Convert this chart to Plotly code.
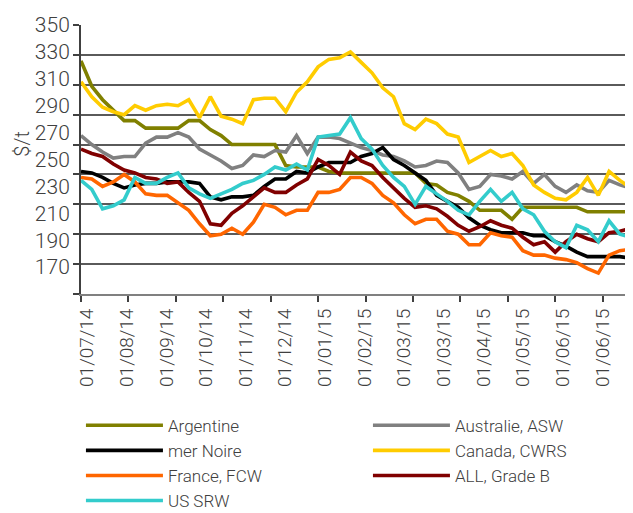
import plotly.graph_objects as go

# ---- data (index = trading-day position along the category axis) ----
x_index = list(range(0, 256, 5))

tick_labels = ["01/07/14", "01/08/14", "01/09/14", "01/10/14", "01/11/14", "01/12/14",
               "01/01/15", "01/02/15", "01/03/15", "01/03/15", "01/04/15", "01/05/15",
               "01/06/15", "01/06/15"]

y_tick_labels = ["350", "330", "310", "290", "270", "250", "230", "210", "190", "170"]

argentine = [326, 309, 300, 293, 286, 286, 281, 281, 281, 281,
             286, 286, 280, 276, 270, 270, 270, 270, 270, 256,
             255, 255, 255, 252, 251, 251, 251, 251, 251, 251,
             251, 251, 244, 243, 238, 236, 232, 226, 226, 226,
             220, 228, 228, 228, 228, 228, 228, 225, 225, 225,
             225, 225]

australie = [276, 270, 265, 261, 262, 262, 271, 275, 275, 278,
             275, 267, 263, 259, 254, 256, 263, 262, 266, 265,
             276, 264, 275, 275, 274, 271, 268, 266, 263, 262,
             259, 255, 256, 259, 258, 251, 240, 242, 250, 249,
             247, 252, 244, 250, 242, 238, 243, 239, 238, 246,
             243, 241]

mer_noire = [252, 251, 248, 244, 241, 243, 244, 244, 245, 245,
             245, 244, 235, 233, 235, 235, 236, 242, 247, 247,
             252, 251, 255, 258, 258, 258, 262, 264, 268, 260,
             256, 251, 246, 236, 232, 228, 221, 216, 213, 211,
             211, 211, 209, 209, 205, 202, 198, 195, 195, 195,
             195, 194]

canada = [312, 302, 295, 292, 290, 296, 293, 296, 297, 296,
          300, 288, 302, 289, 287, 284, 300, 301, 301, 292,
          305, 312, 322, 327, 328, 332, 325, 318, 308, 302,
          284, 280, 287, 284, 277, 275, 258, 262, 266, 262,
          264, 256, 243, 238, 234, 233, 238, 248, 236, 252,
          246, 241]

france = [248, 247, 242, 245, 250, 245, 237, 236, 236, 231,
          226, 217, 209, 210, 214, 210, 218, 230, 228, 223,
          226, 226, 238, 238, 240, 248, 248, 244, 236, 231,
          223, 217, 220, 220, 212, 210, 203, 203, 211, 209,
          208, 199, 196, 196, 194, 193, 191, 187, 184, 196,
          199, 200]

all_grade_b = [267, 264, 262, 257, 253, 251, 248, 247, 244, 245,
               238, 232, 217, 216, 224, 229, 235, 241, 238, 238,
               243, 247, 260, 256, 250, 265, 259, 256, 248, 241,
               234, 228, 229, 227, 222, 216, 212, 215, 219, 216,
               214, 208, 203, 205, 198, 205, 210, 207, 205, 211,
               212, 214]

us_srw = [246, 240, 227, 229, 233, 248, 244, 244, 248, 251,
          241, 237, 234, 237, 240, 244, 246, 250, 255, 253,
          257, 253, 275, 276, 277, 288, 274, 267, 256, 248,
          242, 230, 242, 237, 232, 226, 223, 232, 240, 232,
          238, 227, 223, 212, 205, 201, 216, 213, 205, 219,
          210, 208]

series = [
    ("Argentine", argentine, "#808000"),
    ("Australie, ASW", australie, "#808080"),
    ("mer Noire", mer_noire, "#000000"),
    ("Canada, CWRS", canada, "#FFCC00"),
    ("France, FCW", france, "#FF6600"),
    ("ALL, Grade B", all_grade_b, "#800000"),
    ("US SRW", us_srw, "#33CCCC"),
]

fig = go.Figure()
for name, vals, color in series:
    fig.add_trace(go.Scatter(x=x_index, y=vals, mode="lines", name=name,
                             line=dict(color=color, width=3.6)))

# empty helper trace so the label-only overlay axes get drawn
fig.add_trace(go.Scatter(x=[], y=[], xaxis="x2", yaxis="y2", showlegend=False,
                         hoverinfo="skip"))

X_MAX = 256.1
grid_step_idx = 22
label_first, label_step = 2.8, 18.4
text_col = "#404040"

# the page has an 8px body margin, so the figure is 8px smaller than the window
fig.update_layout(
    width=625, height=505,
    margin=dict(l=73, r=0, t=17, b=219, autoexpand=False),
    plot_bgcolor="white", paper_bgcolor="white",
    font=dict(family="Roboto", size=19, color=text_col, weight=300),
    showlegend=True,
    legend=dict(orientation="h", x=-0.0001, y=-0.4226, xanchor="left", yanchor="top",
                entrywidth=195, entrywidthmode="pixels", itemwidth=77,
                font=dict(size=17, color=text_col), traceorder="normal"),
    xaxis=dict(range=[0, X_MAX], tickmode="array",
               tickvals=[i * grid_step_idx for i in range(12)],
               showticklabels=False, ticks="outside", ticklen=6, tickwidth=1.5,
               tickcolor=text_col, showline=True, linecolor="#808080", linewidth=2,
               showgrid=False, zeroline=False),
    xaxis2=dict(range=[0, X_MAX], overlaying="x", anchor="y", side="bottom",
                tickmode="array",
                tickvals=[label_first + k * label_step for k in range(len(tick_labels))],
                ticktext=tick_labels, tickangle=-90, ticks="outside", ticklen=6,
                tickcolor="rgba(0,0,0,0)", showline=False, showgrid=False, zeroline=False,
                tickfont=dict(size=19, color=text_col)),
    yaxis=dict(range=[170, 350], tickmode="array", tickvals=list(range(170, 351, 20)),
               showticklabels=False, ticks="outside", ticklen=6, tickwidth=1.5,
               tickcolor=text_col, showgrid=True, gridcolor="#5a5a5a", gridwidth=1.5,
               showline=True, linecolor=text_col, linewidth=2, zeroline=False),
    yaxis2=dict(range=[170, 350], overlaying="y", anchor="x", side="left",
                tickmode="array",
                tickvals=[350 - k * 18 for k in range(len(y_tick_labels))],
                ticktext=y_tick_labels, ticks="outside", ticklen=6,
                tickcolor="rgba(0,0,0,0)", showline=False, showgrid=False, zeroline=False,
                tickfont=dict(size=21, color=text_col)),
    annotations=[dict(text="$/t", textangle=-90, xref="paper", yref="paper",
                      x=-0.106, y=0.557, xanchor="center", yanchor="middle",
                      showarrow=False, font=dict(size=20, color=text_col))],
)

fig.write_html("out.html")
